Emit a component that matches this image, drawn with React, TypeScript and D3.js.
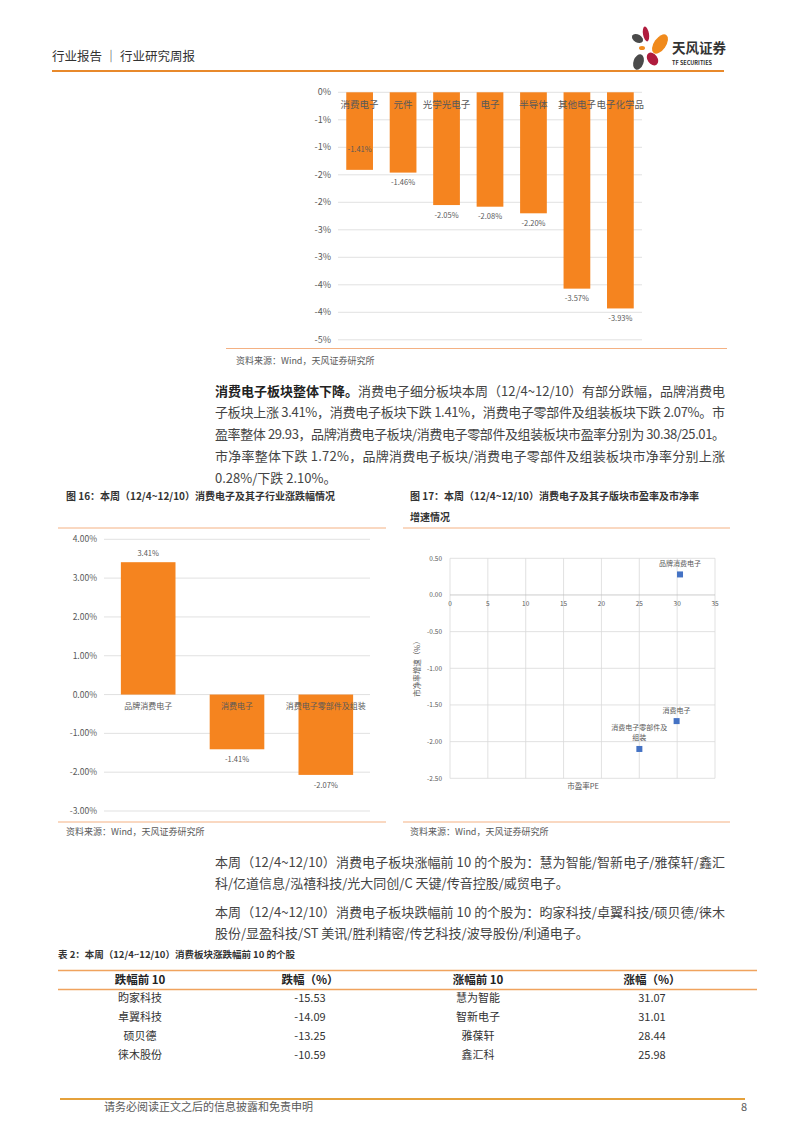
import * as d3 from "d3"

// ---- data ----
const topCats = ["消费电子", "元件", "光学光电子", "电子", "半导体", "其他电子", "电子化学品"]
const topVals = [-1.41, -1.46, -2.05, -2.08, -2.2, -3.57, -3.93]
const topLabelInside = [true, false, false, false, false, false, false]
const topTicks = [0, -0.5, -1, -1.5, -2, -2.5, -3, -3.5, -4, -4.5]
const topTickLabels = ["0%", "-1%", "-1%", "-2%", "-2%", "-3%", "-3%", "-4%", "-4%", "-5%"]

const f16Cats = ["品牌消费电子", "消费电子", "消费电子零部件及组装"]
const f16Vals = [3.41, -1.41, -2.07]
const f16Ticks = [4, 3, 2, 1, 0, -1, -2, -3]

const f17Names = [["品牌消费电子"], ["消费电子"], ["消费电子零部件及", "组装"]]
const f17PE = [30.38, 29.93, 25.01]
const f17PB = [0.28, -1.72, -2.1]
const f17XTicks = [0, 5, 10, 15, 20, 25, 30, 35]
const f17YTicks = [0.5, 0, -0.5, -1, -1.5, -2, -2.5]

const para1 = [
  "消费电子细分板块本周（12/4~12/10）有部分跌幅，品牌消费电",
  "子板块上涨 3.41%，消费电子板块下跌 1.41%，消费电子零部件及组装板块下跌 2.07%。市",
  "盈率整体 29.93，品牌消费电子板块/消费电子零部件及组装板块市盈率分别为 30.38/25.01。",
  "市净率整体下跌 1.72%，品牌消费电子板块/消费电子零部件及组装板块市净率分别上涨",
  "0.28%/下跌 2.10%。",
]
const para2 = [
  "本周（12/4~12/10）消费电子板块涨幅前 10 的个股为：慧为智能/智新电子/雅葆轩/鑫汇",
  "科/亿道信息/泓禧科技/光大同创/C 天键/传音控股/威贸电子。",
]
const para3 = [
  "本周（12/4~12/10）消费电子板块跌幅前 10 的个股为：昀家科技/卓翼科技/硕贝德/徕木",
  "股份/显盈科技/ST 美讯/胜利精密/传艺科技/波导股份/利通电子。",
]

const tableHead = ["跌幅前 10", "跌幅（%）", "涨幅前 10", "涨幅（%）"]
const downNames = ["昀家科技", "卓翼科技", "硕贝德", "徕木股份"]
const downVals = ["-15.53", "-14.09", "-13.25", "-10.59"]
const upNames = ["慧为智能", "智新电子", "雅葆轩", "鑫汇科"]
const upVals = ["31.07", "31.01", "28.44", "25.98"]

const FONT = "'Noto Sans CJK SC', 'Noto Sans', sans-serif"
const ORANGE = "#f5841f"
const GRID = "#d9d9d9"
const AXIS_TXT = "#595959"
const BODY = "#444"

// plain hyphen minus, like the original Excel output
const fmt2 = d3.formatLocale({ decimal: ".", thousands: ",", grouping: [3], currency: ["", ""], minus: "-" }).format(".2f")

function TopChart() {
  const x = d3.scaleBand().domain(topCats).range([338, 642]).paddingInner(0.385).paddingOuter(0.19)
  const y = d3.scaleLinear().domain([-4.5, 0]).range([339.8, 92.3])
  return (
    <g>
      {topTicks.map((t, i) => (
        <g key={i}>
          <line x1={338} x2={642} y1={y(t)} y2={y(t)} stroke={GRID} strokeWidth={0.8} />
          <text x={331} y={y(t)} dy="0.35em" textAnchor="end" fontSize={9} fill={AXIS_TXT}>
            {topTickLabels[i]}
          </text>
        </g>
      ))}
      {topCats.map((c, i) => (
        <rect key={c} x={x(c)} y={y(0)} width={x.bandwidth()} height={y(topVals[i]) - y(0)} fill={ORANGE} />
      ))}
      {topCats.map((c) => (
        <text key={c} x={x(c)! + x.bandwidth() / 2} y={y(0) + 12.5} dy="0.35em" textAnchor="middle" fontSize={9.5} fill={AXIS_TXT}>
          {c}
        </text>
      ))}
      {topCats.map((c, i) => (
        <text
          key={c}
          x={x(c)! + x.bandwidth() / 2}
          y={topLabelInside[i] ? y(topVals[i]) - 20 : y(topVals[i]) + 10}
          dy="0.35em"
          textAnchor="middle"
          fontSize={7.5}
          fill={AXIS_TXT}
        >
          {fmt2(topVals[i])}%
        </text>
      ))}
      <line x1={226} x2={727} y1={348.5} y2={348.5} stroke="#f4b183" strokeWidth={1} />
      <text x={236} y={361} dy="0.35em" fontSize={9} fill={AXIS_TXT}>资料来源：Wind，天风证券研究所</text>
    </g>
  )
}

function Fig16() {
  const x = d3.scaleBand().domain(f16Cats).range([104, 370]).paddingInner(0.385).paddingOuter(0.19)
  const y = d3.scaleLinear().domain([-3, 4]).range([811, 539.3])
  return (
    <g>
      <text x={66} y={496} dy="0.35em" fontSize={10} fontWeight="bold" fill="#333">
        图 16：本周（12/4~12/10）消费电子及其子行业涨跌幅情况
      </text>
      <line x1={58} x2={386} y1={528} y2={528} stroke="#f4b183" strokeWidth={1} />
      {f16Ticks.map((t) => (
        <g key={t}>
          <line x1={104} x2={370} y1={y(t)} y2={y(t)} stroke={GRID} strokeWidth={0.8} />
          <text x={97} y={y(t)} dy="0.35em" textAnchor="end" fontSize={8.5} fill={AXIS_TXT}>
            {fmt2(t)}%
          </text>
        </g>
      ))}
      {f16Cats.map((c, i) => (
        <rect
          key={c}
          x={x(c)}
          y={y(Math.max(0, f16Vals[i]))}
          width={x.bandwidth()}
          height={Math.abs(y(f16Vals[i]) - y(0))}
          fill={ORANGE}
        />
      ))}
      {f16Cats.map((c) => (
        <text key={c} x={x(c)! + x.bandwidth() / 2} y={y(0) + 11.7} dy="0.35em" textAnchor="middle" fontSize={8} fill={AXIS_TXT}>
          {c}
        </text>
      ))}
      {f16Cats.map((c, i) => (
        <text
          key={c}
          x={x(c)! + x.bandwidth() / 2}
          y={f16Vals[i] >= 0 ? y(f16Vals[i]) - 9 : y(f16Vals[i]) + 10}
          dy="0.35em"
          textAnchor="middle"
          fontSize={7.5}
          fill={AXIS_TXT}
        >
          {fmt2(f16Vals[i])}%
        </text>
      ))}
      <line x1={58} x2={386} y1={822} y2={822} stroke="#f4b183" strokeWidth={1} />
      <text x={66} y={832} dy="0.35em" fontSize={9} fill={AXIS_TXT}>资料来源：Wind，天风证券研究所</text>
    </g>
  )
}

function Fig17() {
  const x = d3.scaleLinear().domain([0, 35]).range([450, 715])
  const y = d3.scaleLinear().domain([-2.5, 0.5]).range([778.3, 558.3])
  return (
    <g>
      <text x={410} y={496} dy="0.35em" fontSize={10} fontWeight="bold" fill="#333">
        图 17：本周（12/4~12/10）消费电子及其子版块市盈率及市净率
      </text>
      <text x={410} y={517} dy="0.35em" fontSize={10} fontWeight="bold" fill="#333">增速情况</text>
      <line x1={403} x2={730} y1={528} y2={528} stroke="#f4b183" strokeWidth={1} />
      {f17XTicks.map((t) => (
        <line key={t} x1={x(t)} x2={x(t)} y1={y(0.5)} y2={y(-2.5)} stroke={GRID} strokeWidth={0.8} />
      ))}
      {f17YTicks.map((t) => (
        <g key={t}>
          <line x1={450} x2={715} y1={y(t)} y2={y(t)} stroke={t === 0 ? "#bfbfbf" : GRID} strokeWidth={0.8} />
          <text x={442} y={y(t)} dy="0.35em" textAnchor="end" fontSize={6.5} fill={AXIS_TXT}>
            {fmt2(t)}
          </text>
        </g>
      ))}
      {f17XTicks.map((t) => (
        <text key={t} x={x(t)} y={y(0) + 9} dy="0.35em" textAnchor="middle" fontSize={6.5} fill={AXIS_TXT}>
          {t}
        </text>
      ))}
      <text x={583} y={786} dy="0.35em" textAnchor="middle" fontSize={7.5} fill={AXIS_TXT}>市盈率PE</text>
      <text transform={`translate(417,667) rotate(-90)`} dy="0.35em" textAnchor="middle" fontSize={7.5} fill={AXIS_TXT}>
        市净率增速（%）
      </text>
      {f17PE.map((pe, i) => (
        <g key={i}>
          <rect x={x(pe) - 3} y={y(f17PB[i]) - 3} width={6} height={6} fill="#4472c4" />
          {f17Names[i].map((ln, j) => (
            <text
              key={j}
              x={x(pe)}
              y={y(f17PB[i]) - 11 - (f17Names[i].length - 1 - j) * 10.5}
              dy="0.35em"
              textAnchor="middle"
              fontSize={7}
              fill={AXIS_TXT}
            >
              {ln}
            </text>
          ))}
        </g>
      ))}
      <line x1={403} x2={730} y1={822} y2={822} stroke="#f4b183" strokeWidth={1} />
      <text x={410} y={832} dy="0.35em" fontSize={9} fill={AXIS_TXT}>资料来源：Wind，天风证券研究所</text>
    </g>
  )
}

function Para({ lines, y0, bold }: { lines: string[]; y0: number; bold?: string }) {
  return (
    <g>
      {lines.map((ln, i) => (
        <text
          key={i}
          x={215}
          y={y0 + i * 21.8}
          dy="0.35em"
          fontSize={13}
          fill={BODY}
          textLength={i < lines.length - 1 ? 510 : undefined}
          lengthAdjust="spacing"
        >
          {i === 0 && bold ? (
            <tspan fontWeight="bold" fill="#222">{bold}</tspan>
          ) : null}
          {ln}
        </text>
      ))}
    </g>
  )
}

function Table() {
  const cols = [140, 310, 478, 652]
  const rowY = d3.range(downNames.length).map((i) => 998 + i * 19)
  return (
    <g>
      <text x={58} y={955} dy="0.35em" fontSize={9.5} fontWeight="bold" fill="#333">
        表 2：本周（12/4~12/10）消费板块涨跌幅前 10 的个股
      </text>
      <line x1={58} x2={757} y1={970.5} y2={970.5} stroke="#f0a35e" strokeWidth={1.5} />
      <line x1={58} x2={757} y1={989.5} y2={989.5} stroke="#f0a35e" strokeWidth={1.5} />
      {tableHead.map((h, i) => (
        <text key={h} x={cols[i]} y={980} dy="0.35em" textAnchor="middle" fontSize={11.5} fontWeight="bold" fill="#222">
          {h}
        </text>
      ))}
      {rowY.map((ry, i) => (
        <g key={i} fontSize={11} fill="#333" textAnchor="middle">
          <text x={cols[0]} y={ry} dy="0.35em">{downNames[i]}</text>
          <text x={cols[1]} y={ry} dy="0.35em">{downVals[i]}</text>
          <text x={cols[2]} y={ry} dy="0.35em">{upNames[i]}</text>
          <text x={cols[3]} y={ry} dy="0.35em">{upVals[i]}</text>
        </g>
      ))}
    </g>
  )
}

function Header() {
  return (
    <g>
      <text x={52} y={57} dy="0.35em" fontSize={12.5} fill="#333">行业报告 ｜ 行业研究周报</text>
      <line x1={52} x2={724} y1={71} y2={71} stroke="#e8892b" strokeWidth={2} />
      {/* logo petals */}
      <ellipse cx={646} cy={34} rx={3} ry={7.5} fill="#b01c3e" transform="rotate(-10,646,34)" />
      <ellipse cx={660} cy={44} rx={6} ry={11} fill="#f08a1c" transform="rotate(35,660,44)" />
      <ellipse cx={637.5} cy={38.5} rx={6} ry={4} fill="#4a4a4a" transform="rotate(30,637.5,38.5)" />
      <ellipse cx={642} cy={48} rx={3} ry={2} fill="#f08a1c" />
      <ellipse cx={638.5} cy={62} rx={5} ry={8} fill="#4a4a4a" transform="rotate(20,638.5,62)" />
      <ellipse cx={652.5} cy={59} rx={5} ry={7} fill="#b01c3e" transform="rotate(-35,652.5,59)" />
      <text x={672} y={48} dy="0.35em" fontSize={13.5} fontWeight="bold" fill="#333">天风证券</text>
      <text x={672} y={63} dy="0.35em" fontSize={5.5} fontWeight="bold" fill="#333">TF SECURITIES</text>
    </g>
  )
}

function Footer() {
  return (
    <g>
      <line x1={60} x2={745} y1={1099} y2={1099} stroke="#e5a13b" strokeWidth={2} />
      <text x={104} y={1107} dy="0.35em" fontSize={11} fill="#595959">请务必阅读正文之后的信息披露和免责申明</text>
      <text x={747} y={1107} dy="0.35em" fontSize={11} fill="#595959" textAnchor="end">8</text>
    </g>
  )
}

export default function App() {
  return (
    <svg
      width={802}
      height={1133}
      viewBox="0 0 802 1133"
      style={{ position: "absolute", left: 0, top: 0, background: "#fff" }}
      fontFamily={FONT}
    >
      <rect width={802} height={1133} fill="#fff" />
      <Header />
      <TopChart />
      <Para lines={para1} y0={391} bold="消费电子板块整体下降。" />
      <Fig16 />
      <Fig17 />
      <Para lines={para2} y0={862} />
      <Para lines={para3} y0={912} />
      <Table />
      <Footer />
    </svg>
  )
}
